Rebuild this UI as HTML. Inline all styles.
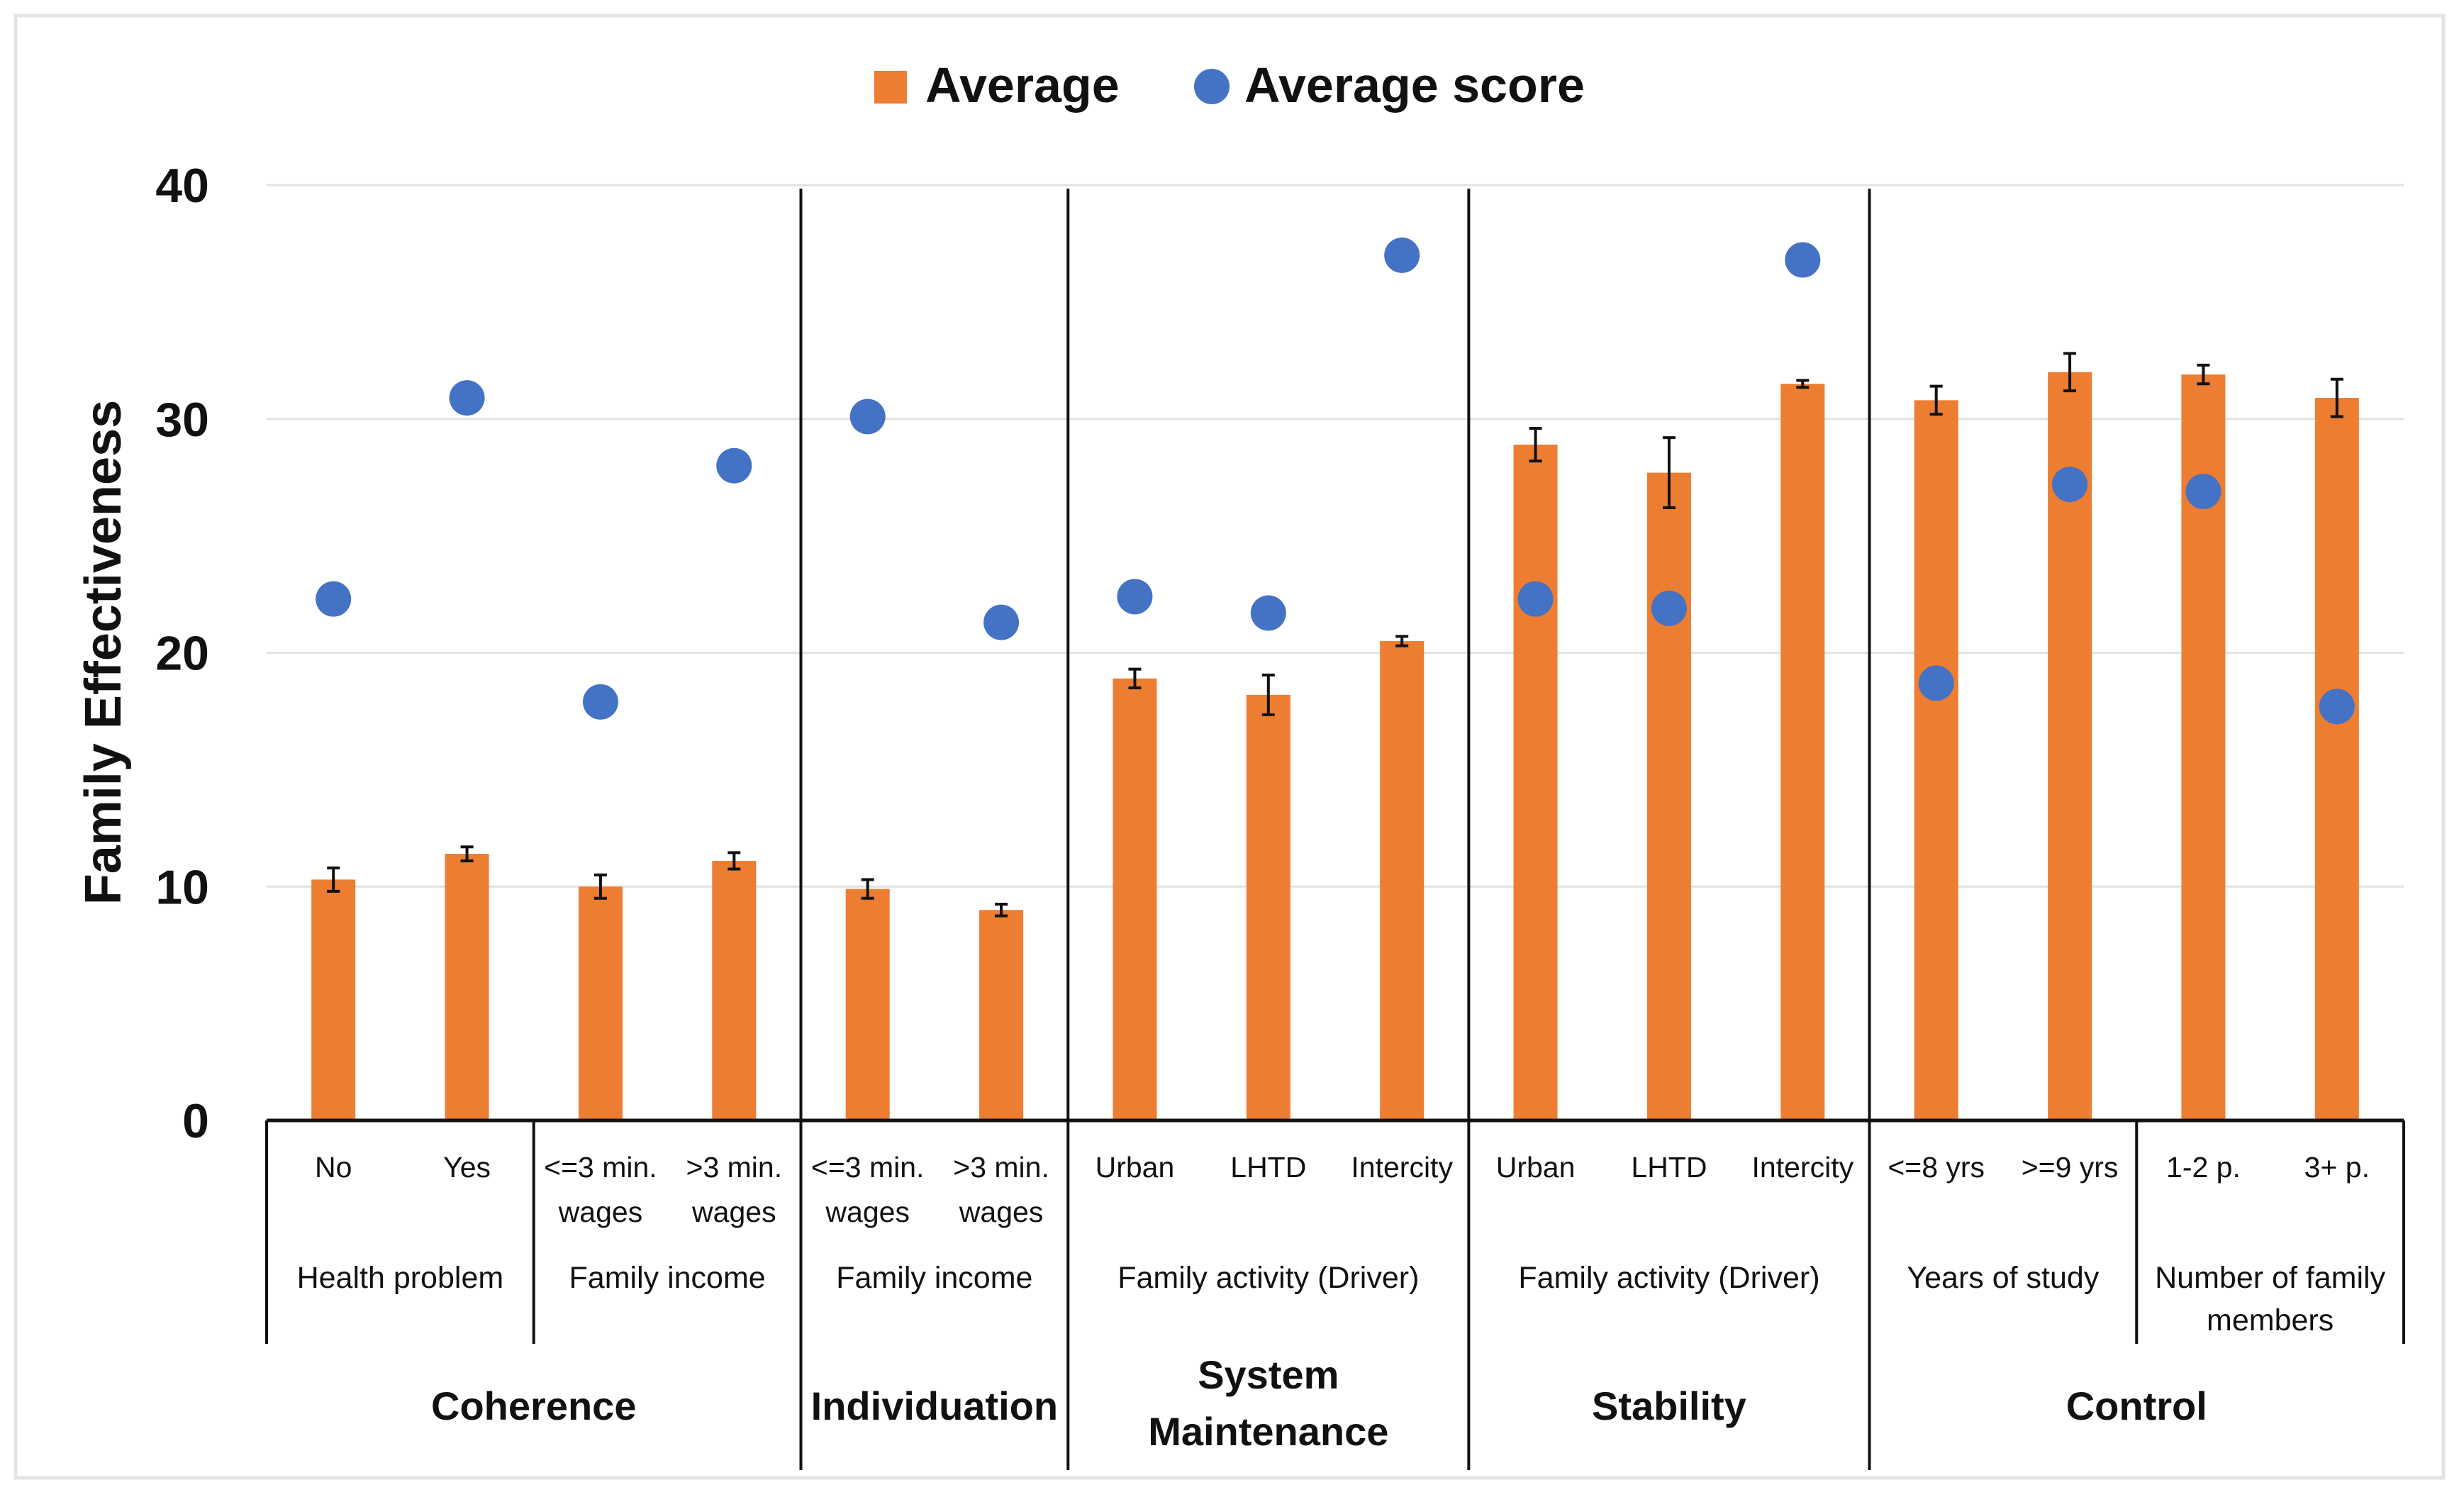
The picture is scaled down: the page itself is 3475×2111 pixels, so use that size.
<!DOCTYPE html>
<html><head><meta charset="utf-8"><style>
html,body{margin:0;padding:0;background:#fff;}
svg{display:block;font-family:"Liberation Sans Narrow","Liberation Sans",sans-serif;}
</style></head><body>
<svg id="chart" width="3475" height="2111" viewBox="0 0 3475 2111" xmlns="http://www.w3.org/2000/svg">
<rect x="22" y="22" width="3424" height="2062" fill="#fff" stroke="#e4e4e4" stroke-width="5"/>
<g id="grid"></g>
<g id="bars"></g>
<g id="errs"></g>
<g id="pts"></g>
<g id="axis"></g>
<g id="labels"></g>
<g>
<rect x="1233" y="100" width="46" height="46" fill="#ed7d31"/>
<text x="1305" y="144" font-size="70" font-weight="bold" fill="#111">Average</text>
<circle cx="1709" cy="122" r="25" fill="#4472c4"/>
<text x="1755" y="144" font-size="70" font-weight="bold" fill="#111">Average score</text>
</g>
<text transform="translate(170,920) rotate(-90)" text-anchor="middle" font-size="72" font-weight="bold" fill="#111">Family Effectiveness</text>
</svg>
<script>
const categories = ["No","Yes","<=3 min.|wages",">3 min.|wages","<=3 min.|wages",">3 min.|wages","Urban","LHTD","Intercity","Urban","LHTD","Intercity","<=8 yrs",">=9 yrs","1-2 p.","3+ p."];
const averageValues = [10.3,11.4,10.0,11.1,9.9,9.0,18.9,18.2,20.5,28.9,27.7,31.5,30.8,32.0,31.9,30.9];
const errorValues = [0.5,0.3,0.5,0.35,0.4,0.25,0.4,0.85,0.2,0.7,1.5,0.15,0.6,0.8,0.4,0.8];
const scoreValues = [22.3,30.9,17.9,28.0,30.1,21.3,22.4,21.7,37.0,22.3,21.9,36.8,18.7,27.2,26.9,17.7];
const yTicks = [0,10,20,30,40];
const subGroups = [["Health problem",0,2],["Family income",2,4],["Family income",4,6],["Family activity (Driver)",6,9],["Family activity (Driver)",9,12],["Years of study",12,14],["Number of family|members",14,16]];
const mainGroups = [["Coherence",0,4],["Individuation",4,6],["System|Maintenance",6,9],["Stability",9,12],["Control",12,16]];

const NS="http://www.w3.org/2000/svg";
const X0=376,X1=3390,Y0=1580,YT=261;
const bw=(X1-X0)/categories.length;
const y=v=>Y0-(v/40)*(Y0-YT);
const xc=i=>X0+bw*(i+0.5);
const xe=i=>X0+bw*i;
function mk(tag,attrs,parent){const e=document.createElementNS(NS,tag);for(const k in attrs)e.setAttribute(k,attrs[k]);document.getElementById(parent).appendChild(e);return e;}
function txt(x,yy,s,size,bold,parent,name){const t=mk('text',{x:x,y:yy,'text-anchor':'middle','font-size':size,'font-weight':bold?'bold':'normal',fill:'#111'},parent);t.textContent=s;

return t;}

yTicks.forEach(v=>{
  if(v>0){const g=mk('line',{x1:X0,x2:X1,y1:y(v),y2:y(v),stroke:'#e2e2e2','stroke-width':3},'grid');
  
  }
  const t=mk('text',{x:295,y:y(v)+24,'text-anchor':'end','font-size':68,'font-weight':'bold',fill:'#111'},'grid');
  t.textContent=v;
  
  
});
averageValues.forEach((v,i)=>{
  const r=mk('rect',{x:xc(i)-31,y:y(v),width:62,height:Y0-y(v),fill:'#ed7d31'},'bars');
  
  
  const e=errorValues[i],cx=xc(i);
  const p=mk('path',{d:`M${cx},${y(v+e)}V${y(v-e)}M${cx-9},${y(v+e)}H${cx+9}M${cx-9},${y(v-e)}H${cx+9}`,stroke:'#111','stroke-width':4,fill:'none'},'errs');
  
  
});
scoreValues.forEach((v,i)=>{
  const c=mk('circle',{cx:xc(i),cy:y(v),r:25,fill:'#4472c4'},'pts');
  
  
});
// axis lines
const ax=mk('line',{x1:X0,x2:X1,y1:Y0,y2:Y0,stroke:'#111','stroke-width':5},'axis');


const shortB=[0,2,14,16],longB=[4,6,9,12];
shortB.forEach(b=>{const l=mk('line',{x1:xe(b),x2:xe(b),y1:Y0,y2:1895,stroke:'#111','stroke-width':4},'axis');
  
  });
longB.forEach(b=>{const l=mk('line',{x1:xe(b),x2:xe(b),y1:266,y2:2073,stroke:'#111','stroke-width':4},'axis');
  
  });
categories.forEach((c,i)=>{
  c.split('|').forEach((s,k)=>txt(xc(i),1660+k*63,s,41,false,'labels','category-label'));
});
subGroups.forEach(g=>{
  const cx=(xe(g[1])+xe(g[2]))/2;
  g[0].split('|').forEach((s,k)=>txt(cx,1816+k*60,s,43,false,'labels','subgroup-label'));
});
mainGroups.forEach(g=>{
  const cx=(xe(g[1])+xe(g[2]))/2;const parts=g[0].split('|');
  parts.forEach((s,k)=>txt(cx,(parts.length>1?1958:2002)+k*80,s,56,true,'labels','group-label'));
});
</script>
</body></html>
